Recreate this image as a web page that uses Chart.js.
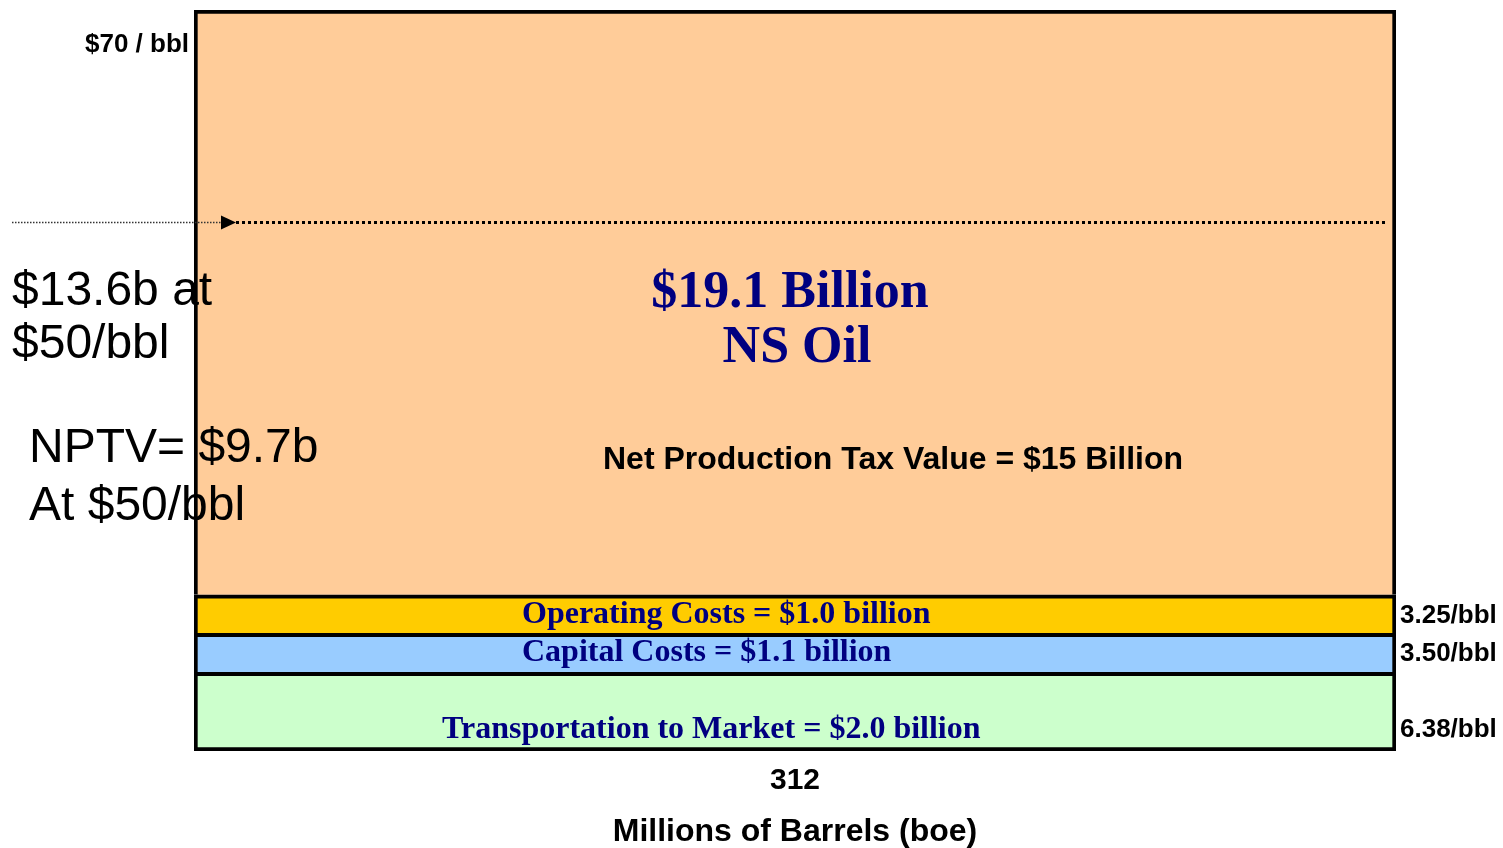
<!DOCTYPE html>
<html>
<head>
<meta charset="utf-8">
<title>NS Oil value breakdown</title>
<script src="https://cdn.jsdelivr.net/npm/chart.js@4/dist/chart.umd.min.js"></script>
<style>
    html, body { margin: 0; padding: 0; background: #ffffff; }
    #wrap { width: 1503px; height: 848px; position: relative; }
</style>
</head>
<body>
<div id="wrap"><canvas id="chart"></canvas></div>
<script>
// Chart data (values in $/bbl, stacked bottom to top)
const categories = ['312'];
const transportValues = [7.43];
const capitalValues = [3.69];
const operatingValues = [3.64];
const remainderValues = [55.24];
const yMax = 70;
const referencePrice = 50;   // dotted line

// Per-barrel labels shown on the right
const perBarrelLabels = ['3.25/bbl', '3.50/bbl', '6.38/bbl'];

const NAVY = '#000080';
const SERIF = '"Liberation Serif"';
const SANS = '"Liberation Sans", Arial, sans-serif';

// Draws the price line and all the text annotations
const annotationsPlugin = {
    id: 'annotations',
    afterDatasetsDraw(chart) {
        const ctx = chart.ctx;
        const area = chart.chartArea;
        const y = chart.scales.y;
        const lineY = Math.round(y.getPixelForValue(referencePrice)) + 0.5;

        ctx.save();

        // thin dotted lead-in
        ctx.strokeStyle = '#333333';
        ctx.lineWidth = 1.5;
        ctx.setLineDash([1.5, 1.5]);
        ctx.beginPath();
        ctx.moveTo(12, lineY);
        ctx.lineTo(area.left + 28, lineY);
        ctx.stroke();

        // arrow head
        ctx.setLineDash([]);
        ctx.fillStyle = '#000000';
        ctx.beginPath();
        ctx.moveTo(area.left + 27, lineY - 7);
        ctx.lineTo(area.left + 42, lineY);
        ctx.lineTo(area.left + 27, lineY + 7);
        ctx.closePath();
        ctx.fill();

        // heavy dotted line
        ctx.strokeStyle = '#000000';
        ctx.lineWidth = 3;
        ctx.setLineDash([3, 3]);
        ctx.beginPath();
        ctx.moveTo(area.left + 42, lineY);
        ctx.lineTo(area.right - 10, lineY);
        ctx.stroke();
        ctx.setLineDash([]);

        // headline in the big segment
        ctx.fillStyle = NAVY;
        ctx.textAlign = 'center';
        ctx.textBaseline = 'alphabetic';
        ctx.font = 'normal normal 700 52px ' + SERIF;
        ctx.fillText('$19.1 Billion', 790, 307);
        ctx.fillText('NS Oil', 797, 362);

        ctx.fillStyle = '#000000';
        ctx.font = 'bold 32px ' + SANS;
        ctx.fillText('Net Production Tax Value = $15 Billion', 893, 469);

        // segment captions
        ctx.fillStyle = NAVY;
        ctx.font = 'normal normal 700 32px ' + SERIF;
        ctx.textAlign = 'left';
        ctx.fillText('Operating Costs = $1.0 billion', 522, 623);
        ctx.fillText('Capital Costs = $1.1 billion', 522, 661);
        ctx.fillText('Transportation to Market = $2.0 billion', 442, 738);

        // right side per-barrel values
        ctx.fillStyle = '#000000';
        ctx.font = 'bold 26px ' + SANS;
        ctx.fillText(perBarrelLabels[0], area.right + 4, 623);
        ctx.fillText(perBarrelLabels[1], area.right + 4, 661);
        ctx.fillText(perBarrelLabels[2], area.right + 4, 737);

        // top of scale label
        ctx.textAlign = 'right';
        ctx.font = 'bold 26px ' + SANS;
        ctx.fillText('$' + yMax + ' / bbl', area.left - 5, 52);

        // left notes
        ctx.textAlign = 'left';
        ctx.font = '48px ' + SANS;
        ctx.fillText('$13.6b at', 12, 305);
        ctx.fillText('$50/bbl', 12, 358);
        ctx.fillText('NPTV= $9.7b', 29, 462);
        ctx.fillText('At $50/bbl', 29, 520);

        ctx.restore();
    }
};

function segment(label, data, color, isBottom) {
    return {
        label: label,
        data: data,
        backgroundColor: color,
        borderColor: '#000000',
        borderWidth: 4,
        borderSkipped: isBottom ? false : 'start',
        barPercentage: 1,
        categoryPercentage: 1
    };
}

const canvas = document.getElementById('chart');
canvas.width = 1503;
canvas.height = 848;

new Chart(canvas.getContext('2d'), {
    type: 'bar',
    data: {
        labels: categories,
        datasets: [
            segment('Transportation to Market', transportValues, '#CCFFCC', true),
            segment('Capital Costs', capitalValues, '#99CCFF', false),
            segment('Operating Costs', operatingValues, '#FFCC00', false),
            segment('Net Production Tax Value', remainderValues, '#FFCC99', false)
        ]
    },
    options: {
        responsive: false,
        animation: false,
        layout: {
            padding: { left: 194, right: 107, top: 10, bottom: 0 }
        },
        plugins: {
            legend: { display: false },
            tooltip: { enabled: false }
        },
        scales: {
            x: {
                stacked: true,
                grid: { display: false, drawTicks: false },
                border: { display: false },
                ticks: {
                    color: '#000000',
                    padding: 12,
                    font: { family: SANS, size: 30, weight: 'bold' }
                },
                title: {
                    display: true,
                    text: 'Millions of Barrels (boe)',
                    color: '#000000',
                    padding: { top: 5, bottom: 0 },
                    font: { family: SANS, size: 32, weight: 'bold', lineHeight: 1 }
                }
            },
            y: {
                stacked: true,
                display: false,
                min: 0,
                max: yMax
            }
        }
    },
    plugins: [annotationsPlugin]
});
</script>
</body>
</html>
